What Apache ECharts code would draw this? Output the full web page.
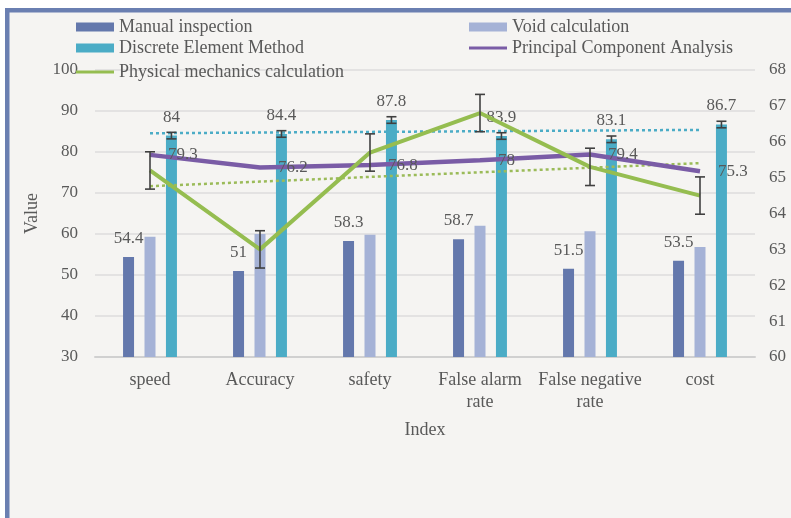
<!DOCTYPE html>
<html>
<head>
<meta charset="utf-8">
<script src="https://cdn.jsdelivr.net/npm/echarts@6/dist/echarts.min.js"></script>
<style>
  html, body { margin: 0; padding: 0; background: #ffffff; }
  #chart { width: 791px; height: 518px; }
</style>
</head>
<body>
<div id="chart"></div>
<script>
// Indicators compared across the five evaluation methods
const categories = ['speed', 'Accuracy', 'safety', 'False alarm rate', 'False negative rate', 'cost'];

// Bars (left axis)
const manualInspection = [54.4, 51, 58.3, 58.7, 51.5, 53.5];
const voidCalculation = [59.3, 60.0, 59.8, 62.0, 60.7, 56.8];
const discreteElement = [84, 84.4, 87.8, 83.9, 83.1, 86.7];
const discreteElementError = [0.8, 0.8, 0.8, 0.8, 0.8, 0.8];

// Lines
const principalComponent = [79.3, 76.2, 76.8, 78, 79.4, 75.3];      // left axis
const physicalMechanics = [65.2, 63.0, 65.7, 66.8, 65.3, 64.5];      // right axis
const physicalMechanicsError = [0.52, 0.52, 0.52, 0.52, 0.52, 0.52];

// Axis ticks
const leftTicks = { min: 30, max: 100, step: 10 };
const rightTicks = { min: 60, max: 68, step: 1 };

const FONT = 'Liberation Serif';
const TEXT = '#595959';
const BAR_WIDTH = 11;
const BAR_GAP = 0.95;

// Ordinary least-squares line through a series, evaluated at each category
function linearTrend(values) {
  const n = values.length;
  const xs = values.map((_, i) => i);
  const mx = xs.reduce((a, b) => a + b, 0) / n;
  const my = values.reduce((a, b) => a + b, 0) / n;
  let sxy = 0, sxx = 0;
  xs.forEach((x, i) => { sxy += (x - mx) * (values[i] - my); sxx += (x - mx) * (x - mx); });
  const slope = sxy / sxx;
  return xs.map(x => +(my + slope * (x - mx)).toFixed(3));
}

// Vertical error bar with caps; offset shifts it onto a bar within the category
function errorBar(offsetPx, capHalf) {
  return function (params, api) {
    const i = api.value(0);
    const lo = api.coord([i, api.value(1)]);
    const hi = api.coord([i, api.value(2)]);
    const x = lo[0] + offsetPx;
    const style = { stroke: '#404040', lineWidth: 1.6 };
    return {
      type: 'group',
      children: [
        { type: 'line', shape: { x1: x, y1: lo[1], x2: x, y2: hi[1] }, style: style },
        { type: 'line', shape: { x1: x - capHalf, y1: lo[1], x2: x + capHalf, y2: lo[1] }, style: style },
        { type: 'line', shape: { x1: x - capHalf, y1: hi[1], x2: x + capHalf, y2: hi[1] }, style: style }
      ]
    };
  };
}

const labelStyle = { color: TEXT, fontFamily: FONT, fontSize: 17 };
const legendText = { color: TEXT, fontFamily: FONT, fontSize: 18 };

function legendAt(name, left, top, isLine) {
  return {
    data: [name], left: left, top: top, padding: 0,
    itemWidth: 38, itemHeight: isLine ? 3 : 9, icon: 'rect', itemGap: 0,
    textStyle: legendText, selectedMode: false
  };
}

const chart = echarts.init(document.getElementById('chart'));
chart.setOption({
  backgroundColor: '#ffffff',
  animation: false,
  graphic: [
    { type: 'rect', z: -100, silent: true, shape: { x: 9, y: 12, width: 782, height: 506 }, style: { fill: '#f5f4f2' } },
    { type: 'rect', z: -99, silent: true, shape: { x: 5, y: 8, width: 4.5, height: 510 }, style: { fill: '#6a7fb1' } },
    { type: 'rect', z: -99, silent: true, shape: { x: 5, y: 8, width: 786, height: 4.5 }, style: { fill: '#6a7fb1' } }
  ],
  legend: [
    legendAt('Manual inspection', 76, 18, false),
    legendAt('Discrete Element Method', 76, 39, false),
    legendAt('Physical mechanics calculation', 76, 63, true),
    legendAt('Void calculation', 469, 18, false),
    legendAt('Principal Component Analysis', 469, 39, true)
  ],
  grid: { left: 95, right: 36, top: 70, bottom: 161, containLabel: false },
  xAxis: {
    type: 'category',
    data: categories,
    name: 'Index',
    nameLocation: 'middle',
    nameGap: 64,
    nameTextStyle: legendText,
    axisTick: { show: false },
    axisLine: { lineStyle: { color: '#d0d0d0', width: 2 } },
    axisLabel: {
      color: TEXT, fontFamily: FONT, fontSize: 18, margin: 12, lineHeight: 22, interval: 0,
      formatter: v => v.replace(' rate', '\nrate')
    }
  },
  yAxis: [
    {
      type: 'value',
      min: leftTicks.min, max: leftTicks.max, interval: leftTicks.step,
      name: 'Value',
      nameLocation: 'middle',
      nameGap: 51,
      nameTextStyle: legendText,
      axisLine: { show: false },
      axisTick: { show: false },
      splitLine: { lineStyle: { color: '#dcdcdc', width: 1.5 } },
      axisLabel: { color: TEXT, fontFamily: FONT, fontSize: 17, margin: 17 }
    },
    {
      type: 'value',
      position: 'right',
      min: rightTicks.min, max: rightTicks.max, interval: rightTicks.step,
      axisLine: { show: false },
      axisTick: { show: false },
      splitLine: { show: false },
      axisLabel: { color: TEXT, fontFamily: FONT, fontSize: 17, margin: 14 }
    }
  ],
  series: [
    {
      name: 'Manual inspection', type: 'bar', data: manualInspection,
      barWidth: BAR_WIDTH, barGap: (BAR_GAP * 100) + '%',
      itemStyle: { color: '#6478ac' },
      label: Object.assign({ show: true, position: 'top', distance: 10 }, labelStyle)
    },
    {
      name: 'Void calculation', type: 'bar', data: voidCalculation,
      barWidth: BAR_WIDTH, barGap: (BAR_GAP * 100) + '%',
      itemStyle: { color: '#a5b2d6' }
    },
    {
      name: 'Discrete Element Method', type: 'bar', data: discreteElement,
      barWidth: BAR_WIDTH, barGap: (BAR_GAP * 100) + '%',
      itemStyle: { color: '#4bacc6' },
      label: Object.assign({ show: true, position: 'top', distance: 10 }, labelStyle)
    },
    {
      type: 'line', data: linearTrend(discreteElement), symbol: 'none', z: 3, silent: true,
      lineStyle: { color: '#4bacc6', width: 2.5, type: [3, 3] }
    },
    {
      type: 'line', yAxisIndex: 1, data: linearTrend(physicalMechanics), symbol: 'none', z: 3, silent: true,
      lineStyle: { color: '#9bbb59', width: 2.5, type: [3, 3] }
    },
    {
      name: 'Principal Component Analysis', type: 'line', data: principalComponent,
      symbol: 'circle', symbolSize: 0, showSymbol: true, z: 4,
      lineStyle: { color: '#7a5ca6', width: 4.5 },
      itemStyle: { color: '#7a5ca6' },
      label: Object.assign({ show: true, position: 'right', distance: 18 }, labelStyle)
    },
    {
      name: 'Physical mechanics calculation', type: 'line', yAxisIndex: 1, data: physicalMechanics,
      symbol: 'none', z: 4,
      lineStyle: { color: '#95bd50', width: 4 },
      itemStyle: { color: '#95bd50' }
    },
    {
      type: 'custom', yAxisIndex: 1, z: 5, silent: true,
      renderItem: errorBar(0, 5),
      encode: { x: 0, y: [1, 2] },
      data: physicalMechanics.map((v, i) => [i, v - physicalMechanicsError[i], v + physicalMechanicsError[i]])
    },
    {
      type: 'custom', z: 5, silent: true,
      renderItem: errorBar(BAR_WIDTH * (1 + BAR_GAP), 5),
      encode: { x: 0, y: [1, 2] },
      data: discreteElement.map((v, i) => [i, v - discreteElementError[i], v + discreteElementError[i]])
    }
  ]
});
</script>
</body>
</html>
